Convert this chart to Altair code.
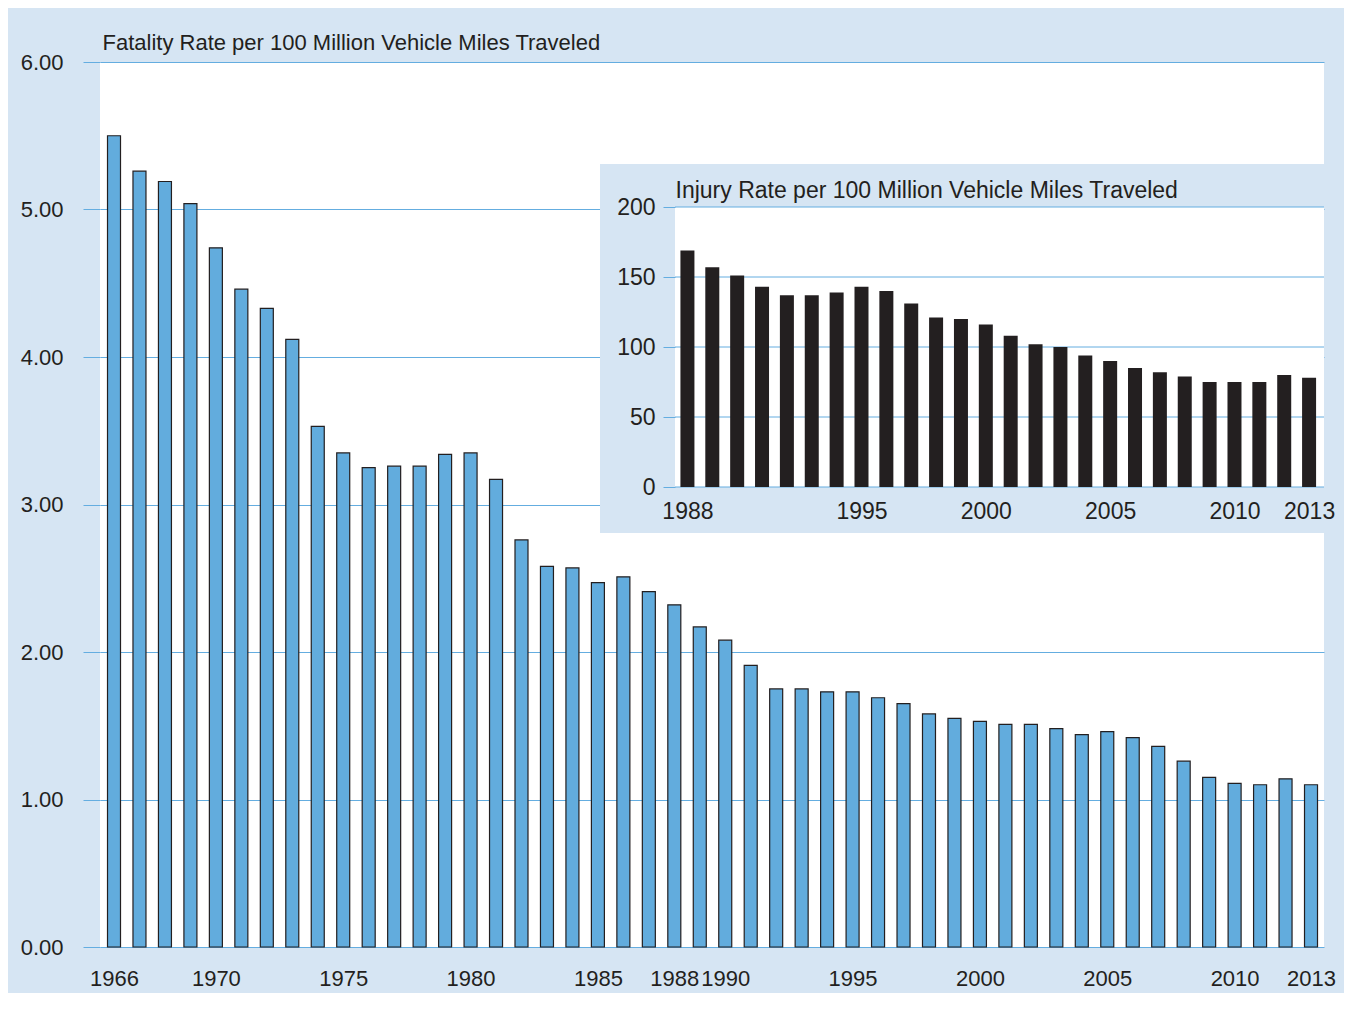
import altair as alt
import pandas as pd

# ---------------- data ----------------
fatal_years = list(range(1966, 2014))
fatal_rates = [5.50, 5.26, 5.19, 5.04, 4.74, 4.46, 4.33, 4.12, 3.53, 3.35,
               3.25, 3.26, 3.26, 3.34, 3.35, 3.17, 2.76, 2.58, 2.57, 2.47,
               2.51, 2.41, 2.32, 2.17, 2.08, 1.91, 1.75, 1.75, 1.73, 1.73,
               1.69, 1.65, 1.58, 1.55, 1.53, 1.51, 1.51, 1.48, 1.44, 1.46,
               1.42, 1.36, 1.26, 1.15, 1.11, 1.10, 1.14, 1.10]
injury_years = list(range(1988, 2014))
injury_rates = [169, 157, 151, 143, 137, 137, 139, 143, 140, 131,
                121, 120, 116, 108, 102, 100, 94, 90, 85, 82,
                79, 75, 75, 75, 80, 78]

main_x_ticks = [1966, 1970, 1975, 1980, 1985, 1988, 1990, 1995, 2000, 2005, 2010, 2013]
main_y_ticks = [0, 1, 2, 3, 4, 5, 6]
inset_x_ticks = [1988, 1995, 2000, 2005, 2010, 2013]
inset_y_ticks = [0, 50, 100, 150, 200]

main_title = "Fatality Rate per 100 Million Vehicle Miles Traveled"
inset_title = "Injury Rate per 100 Million Vehicle Miles Traveled"

# ---------------- style ----------------
BG = "#d6e5f3"
BAR_BLUE = "#62acdd"
GRID = "#64ade0"
INK = "#231f20"
FONT = "Liberation Sans"

W, H = 1224, 885
# inset layout (pixels inside the main plot area)
BOX_X, BOX_Y, BOX_X2, BOX_Y2 = 500, 102, 1224, 471
IN_X, IN_Y, IN_X2, IN_Y2 = 575, 145, 1224, 425

fatal_df = pd.DataFrame({"year": fatal_years, "rate": fatal_rates})
injury_df = pd.DataFrame({"year": injury_years, "rate": injury_rates})
grid_df = pd.DataFrame({"v": inset_y_ticks})
one = pd.DataFrame({"k": [0]})

label_common = dict(labelColor=INK, labelFont=FONT, labelOverlap=False, labelFlush=False)

main = alt.Chart(fatal_df).mark_bar(
    width=13, fill=BAR_BLUE, stroke=INK, strokeWidth=1.2
).encode(
    x=alt.X("year:Q",
            scale=alt.Scale(domain=[1965.45, 2013.51], range=[0, W], zero=False,
                            nice=False, padding=0),
            axis=alt.Axis(values=main_x_ticks, format="d", title=None, domain=False,
                          ticks=False, tickSize=0, grid=False, labelPadding=21,
                          labelFontSize=22, **label_common)),
    y=alt.Y("rate:Q",
            scale=alt.Scale(domain=[0, 6], nice=False, zero=True, padding=0),
            axis=alt.Axis(values=main_y_ticks, format=".2f", title=main_title,
                          titleX=2, titleY=-13, titleAngle=0, titleAlign="left",
                          titleBaseline="alphabetic", titleFontSize=22,
                          titleFontWeight="normal", titleColor=INK, titleFont=FONT,
                          domain=False, ticks=True, tickSize=17, tickColor=GRID,
                          tickWidth=1, grid=True, gridColor=GRID, gridWidth=1,
                          gridOpacity=1, labelPadding=20, labelFontSize=22,
                          **label_common)),
)

inset_box = alt.Chart(one).mark_rect(fill=BG).encode(
    x=alt.value(BOX_X), x2=alt.value(BOX_X2), y=alt.value(BOX_Y), y2=alt.value(BOX_Y2)
)
inset_plot = alt.Chart(one).mark_rect(fill="white").encode(
    x=alt.value(IN_X), x2=alt.value(IN_X2), y=alt.value(IN_Y), y2=alt.value(IN_Y2)
)

inset_x_scale = alt.Scale(domain=[1987.5, 2013.6], range=[IN_X, IN_X2], zero=False,
                          nice=False, padding=0)
inset_y_scale = alt.Scale(domain=[0, 200], range=[IN_Y2, IN_Y], nice=False, zero=True,
                          padding=0)

inset_grid = alt.Chart(grid_df).mark_rule(color=GRID, strokeWidth=1).encode(
    y=alt.Y("v:Q", scale=inset_y_scale, axis=None),
    x=alt.value(IN_X), x2=alt.value(IN_X2),
)

inset_bars = alt.Chart(injury_df).mark_bar(width=14, color=INK).encode(
    x=alt.X("year:Q", scale=inset_x_scale,
            axis=alt.Axis(orient="bottom", offset=-(H - IN_Y2), values=inset_x_ticks,
                          format="d", title=None, domain=False, ticks=False, tickSize=0,
                          grid=False, labelPadding=13, labelFontSize=23, zindex=1,
                          **label_common)),
    y=alt.Y("rate:Q", scale=inset_y_scale,
            axis=alt.Axis(orient="left", offset=-IN_X, values=inset_y_ticks, format="d",
                          title=inset_title, titleX=0, titleY=IN_Y - 10, titleAngle=0,
                          titleAlign="left", titleBaseline="alphabetic", titleFontSize=23,
                          titleFontWeight="normal", titleColor=INK, titleFont=FONT,
                          domain=False, ticks=True, tickSize=12, tickColor=GRID, tickWidth=1,
                          grid=False, labelPadding=8, labelFontSize=23, zindex=1,
                          **label_common)),
)

chart = alt.layer(main, inset_box, inset_plot, inset_grid, inset_bars).resolve_scale(
    x="independent", y="independent"
).properties(
    width=W, height=H,
    padding={"left": 92, "top": 54, "right": 20, "bottom": 46},
    autosize=alt.AutoSizeParams(type="none"),
    background=BG,
).configure_view(fill="white", stroke=None)

chart.save("out.html", embed_options={"renderer": "svg", "actions": False})
